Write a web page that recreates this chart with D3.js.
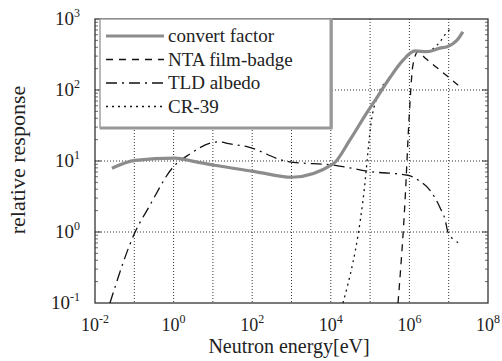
<!DOCTYPE html>
<html>
<head>
<meta charset="utf-8">
<script src="https://cdn.jsdelivr.net/npm/d3@7/dist/d3.min.js"></script>
<style>
  body { margin: 0; background: #fff; }
</style>
</head>
<body>
<svg id="chart" width="502" height="361"></svg>
<script>
// values: [energy eV, relative response]
var convertFactor = [[0.027,7.9],[0.105,10.2],[1.1,11],[3.5,9.8],[11,8.7],[118,7.1],[1020,5.9],
  [11500,9.1],[31000,20],[83000,48],[151000,79],[324000,151],[692000,263],[1380000,355],
  [2820000,347],[6030000,389],[9100000,407],[16200000,501],[22900000,661]];
var ntaFilm = [[513000,0.1],[776000,2.8],[977000,38],[1230000,224],[1660000,347],
  [2510000,282],[6030000,190],[17400000,117]];
var tldAlbedo = [[0.024,0.1],[0.105,1],[0.234,2.24],[0.97,8.2],[2.63,12.6],[8.5,17.8],
  [13.5,18.6],[27.5,17.4],[77,15.8],[813,9.8],[12900,8.7],[100000,7.1],[912000,6.3],
  [1660000,5.4],[3310000,3.9],[6030000,2.2],[8130000,1.48],[9550000,1.0],[17400000,0.71]];
var cr39 = [[20400,0.1],[66000,2.8],[112000,42],[158000,85],[324000,151],[692000,263],
  [1380000,355],[2820000,347],[5010000,427],[10700000,708],[12900000,741]];

var xTicks = [1e-2, 1, 1e2, 1e4, 1e6, 1e8];
var yTicks = [1e-1, 1, 1e1, 1e2, 1e3];
var legendNames = ["convert factor", "NTA film-badge", "TLD albedo", "CR-39"];

var serif = "'Liberation Serif', 'Times New Roman', 'DejaVu Serif', serif";
var svg = d3.select("#chart");
var plotLeft = 95, plotRight = 488, plotTop = 19, plotBottom = 303;

var x = d3.scaleLog().domain([1e-2, 1e8]).range([plotLeft, plotRight]);
var y = d3.scaleLog().domain([1e-1, 1e3]).range([plotBottom, plotTop]);

// dotted grid at every decade
var xDecades = d3.range(-1, 8).map(function(p) { return Math.pow(10, p); });
var yDecades = d3.range(0, 3).map(function(p) { return Math.pow(10, p); });

svg.append("g").selectAll("line")
    .data(xDecades)
    .enter().append("line")
    .attr("x1", function(d) { return x(d); })
    .attr("x2", function(d) { return x(d); })
    .attr("y1", plotTop).attr("y2", plotBottom)
    .attr("stroke", "#333").attr("stroke-width", 1)
    .attr("stroke-dasharray", "1,2");

svg.append("g").selectAll("line")
    .data(yDecades)
    .enter().append("line")
    .attr("y1", function(d) { return y(d); })
    .attr("y2", function(d) { return y(d); })
    .attr("x1", plotLeft).attr("x2", plotRight)
    .attr("stroke", "#333").attr("stroke-width", 1)
    .attr("stroke-dasharray", "1,2");

// minor ticks on left and right sides
var minor = [];
d3.range(-1, 3).forEach(function(p) {
  d3.range(2, 10).forEach(function(m) { minor.push(m * Math.pow(10, p)); });
});
[plotLeft, plotRight].forEach(function(xx, i) {
  var dir = i == 0 ? 1 : -1;
  svg.append("g").selectAll("line")
      .data(minor)
      .enter().append("line")
      .attr("x1", xx).attr("x2", xx + dir * 3)
      .attr("y1", function(d) { return y(d); })
      .attr("y2", function(d) { return y(d); })
      .attr("stroke", "#444").attr("stroke-width", 0.8);
  svg.append("g").selectAll("line")
      .data(yDecades)
      .enter().append("line")
      .attr("x1", xx).attr("x2", xx + dir * 6)
      .attr("y1", function(d) { return y(d); })
      .attr("y2", function(d) { return y(d); })
      .attr("stroke", "#333").attr("stroke-width", 1);
});

// frame
svg.append("rect")
    .attr("x", plotLeft).attr("y", plotTop)
    .attr("width", plotRight - plotLeft).attr("height", plotBottom - plotTop)
    .attr("fill", "none").attr("stroke", "#333").attr("stroke-width", 1.3);

var line = d3.line()
    .x(function(d) { return x(d[0]); })
    .y(function(d) { return y(d[1]); })
    .curve(d3.curveMonotoneX);

svg.append("path").datum(tldAlbedo)
    .attr("d", line).attr("fill", "none")
    .attr("stroke", "#111").attr("stroke-width", 1.3)
    .attr("stroke-dasharray", "11,5,2,5");

svg.append("path").datum(cr39)
    .attr("d", line).attr("fill", "none")
    .attr("stroke", "#111").attr("stroke-width", 1.3)
    .attr("stroke-dasharray", "2,4");

svg.append("path").datum(ntaFilm)
    .attr("d", line).attr("fill", "none")
    .attr("stroke", "#111").attr("stroke-width", 1.3)
    .attr("stroke-dasharray", "7,6");

svg.append("path").datum(convertFactor)
    .attr("d", line).attr("fill", "none")
    .attr("stroke", "#8c8c8c").attr("stroke-width", 3.2)
    .attr("stroke-linejoin", "round");

// legend
var lg = svg.append("g");
lg.append("rect")
    .attr("x", 100).attr("y", 19).attr("width", 232).attr("height", 109)
    .attr("fill", "#fff").attr("stroke", "#999").attr("stroke-width", 1.4);
lg.append("path")
    .attr("d", "M331,19V128H100")
    .attr("fill", "none").attr("stroke", "#999").attr("stroke-width", 3);

var legendStyles = [
  { color: "#8c8c8c", width: 3, dash: null },
  { color: "#111", width: 1.3, dash: "7,6" },
  { color: "#111", width: 1.3, dash: "11,5,2,5" },
  { color: "#111", width: 1.3, dash: "2,4" }
];
legendNames.forEach(function(name, i) {
  var yy = 36 + i * 23.5;
  lg.append("line")
      .attr("x1", 106).attr("x2", 164)
      .attr("y1", yy).attr("y2", yy)
      .attr("stroke", legendStyles[i].color)
      .attr("stroke-width", legendStyles[i].width)
      .attr("stroke-dasharray", legendStyles[i].dash);
  lg.append("text")
      .attr("x", 168).attr("y", yy + 6)
      .attr("font-family", serif)
      .attr("font-size", 19)
      .attr("fill", "#222")
      .text(name);
});

// tick labels: 10 with superscript exponent
function powLabel(sel, d) {
  var p = Math.round(Math.log10(d));
  sel.append("tspan").text("10");
  sel.append("tspan")
      .attr("font-size", 12)
      .attr("dy", -8)
      .text(p);
}

svg.append("g").selectAll("text")
    .data(yTicks)
    .enter().append("text")
    .attr("x", 80)
    .attr("y", function(d) { return y(d) + 6; })
    .attr("text-anchor", "end")
    .attr("font-family", serif)
    .attr("font-size", 19)
    .attr("fill", "#222")
    .each(function(d) { powLabel(d3.select(this), d); });

svg.append("g").selectAll("text")
    .data(xTicks)
    .enter().append("text")
    .attr("x", function(d) { return x(d); })
    .attr("y", 331)
    .attr("text-anchor", "middle")
    .attr("font-family", serif)
    .attr("font-size", 18)
    .attr("fill", "#222")
    .each(function(d) { powLabel(d3.select(this), d); });

svg.append("text")
    .attr("x", 289).attr("y", 353)
    .attr("text-anchor", "middle")
    .attr("font-family", serif)
    .attr("font-size", 20)
    .attr("fill", "#222")
    .text("Neutron energy[eV]");

svg.append("text")
    .attr("transform", "translate(25,160) rotate(-90)")
    .attr("text-anchor", "middle")
    .attr("font-family", serif)
    .attr("font-size", 22)
    .attr("fill", "#222")
    .text("relative response");
</script>
</body>
</html>
